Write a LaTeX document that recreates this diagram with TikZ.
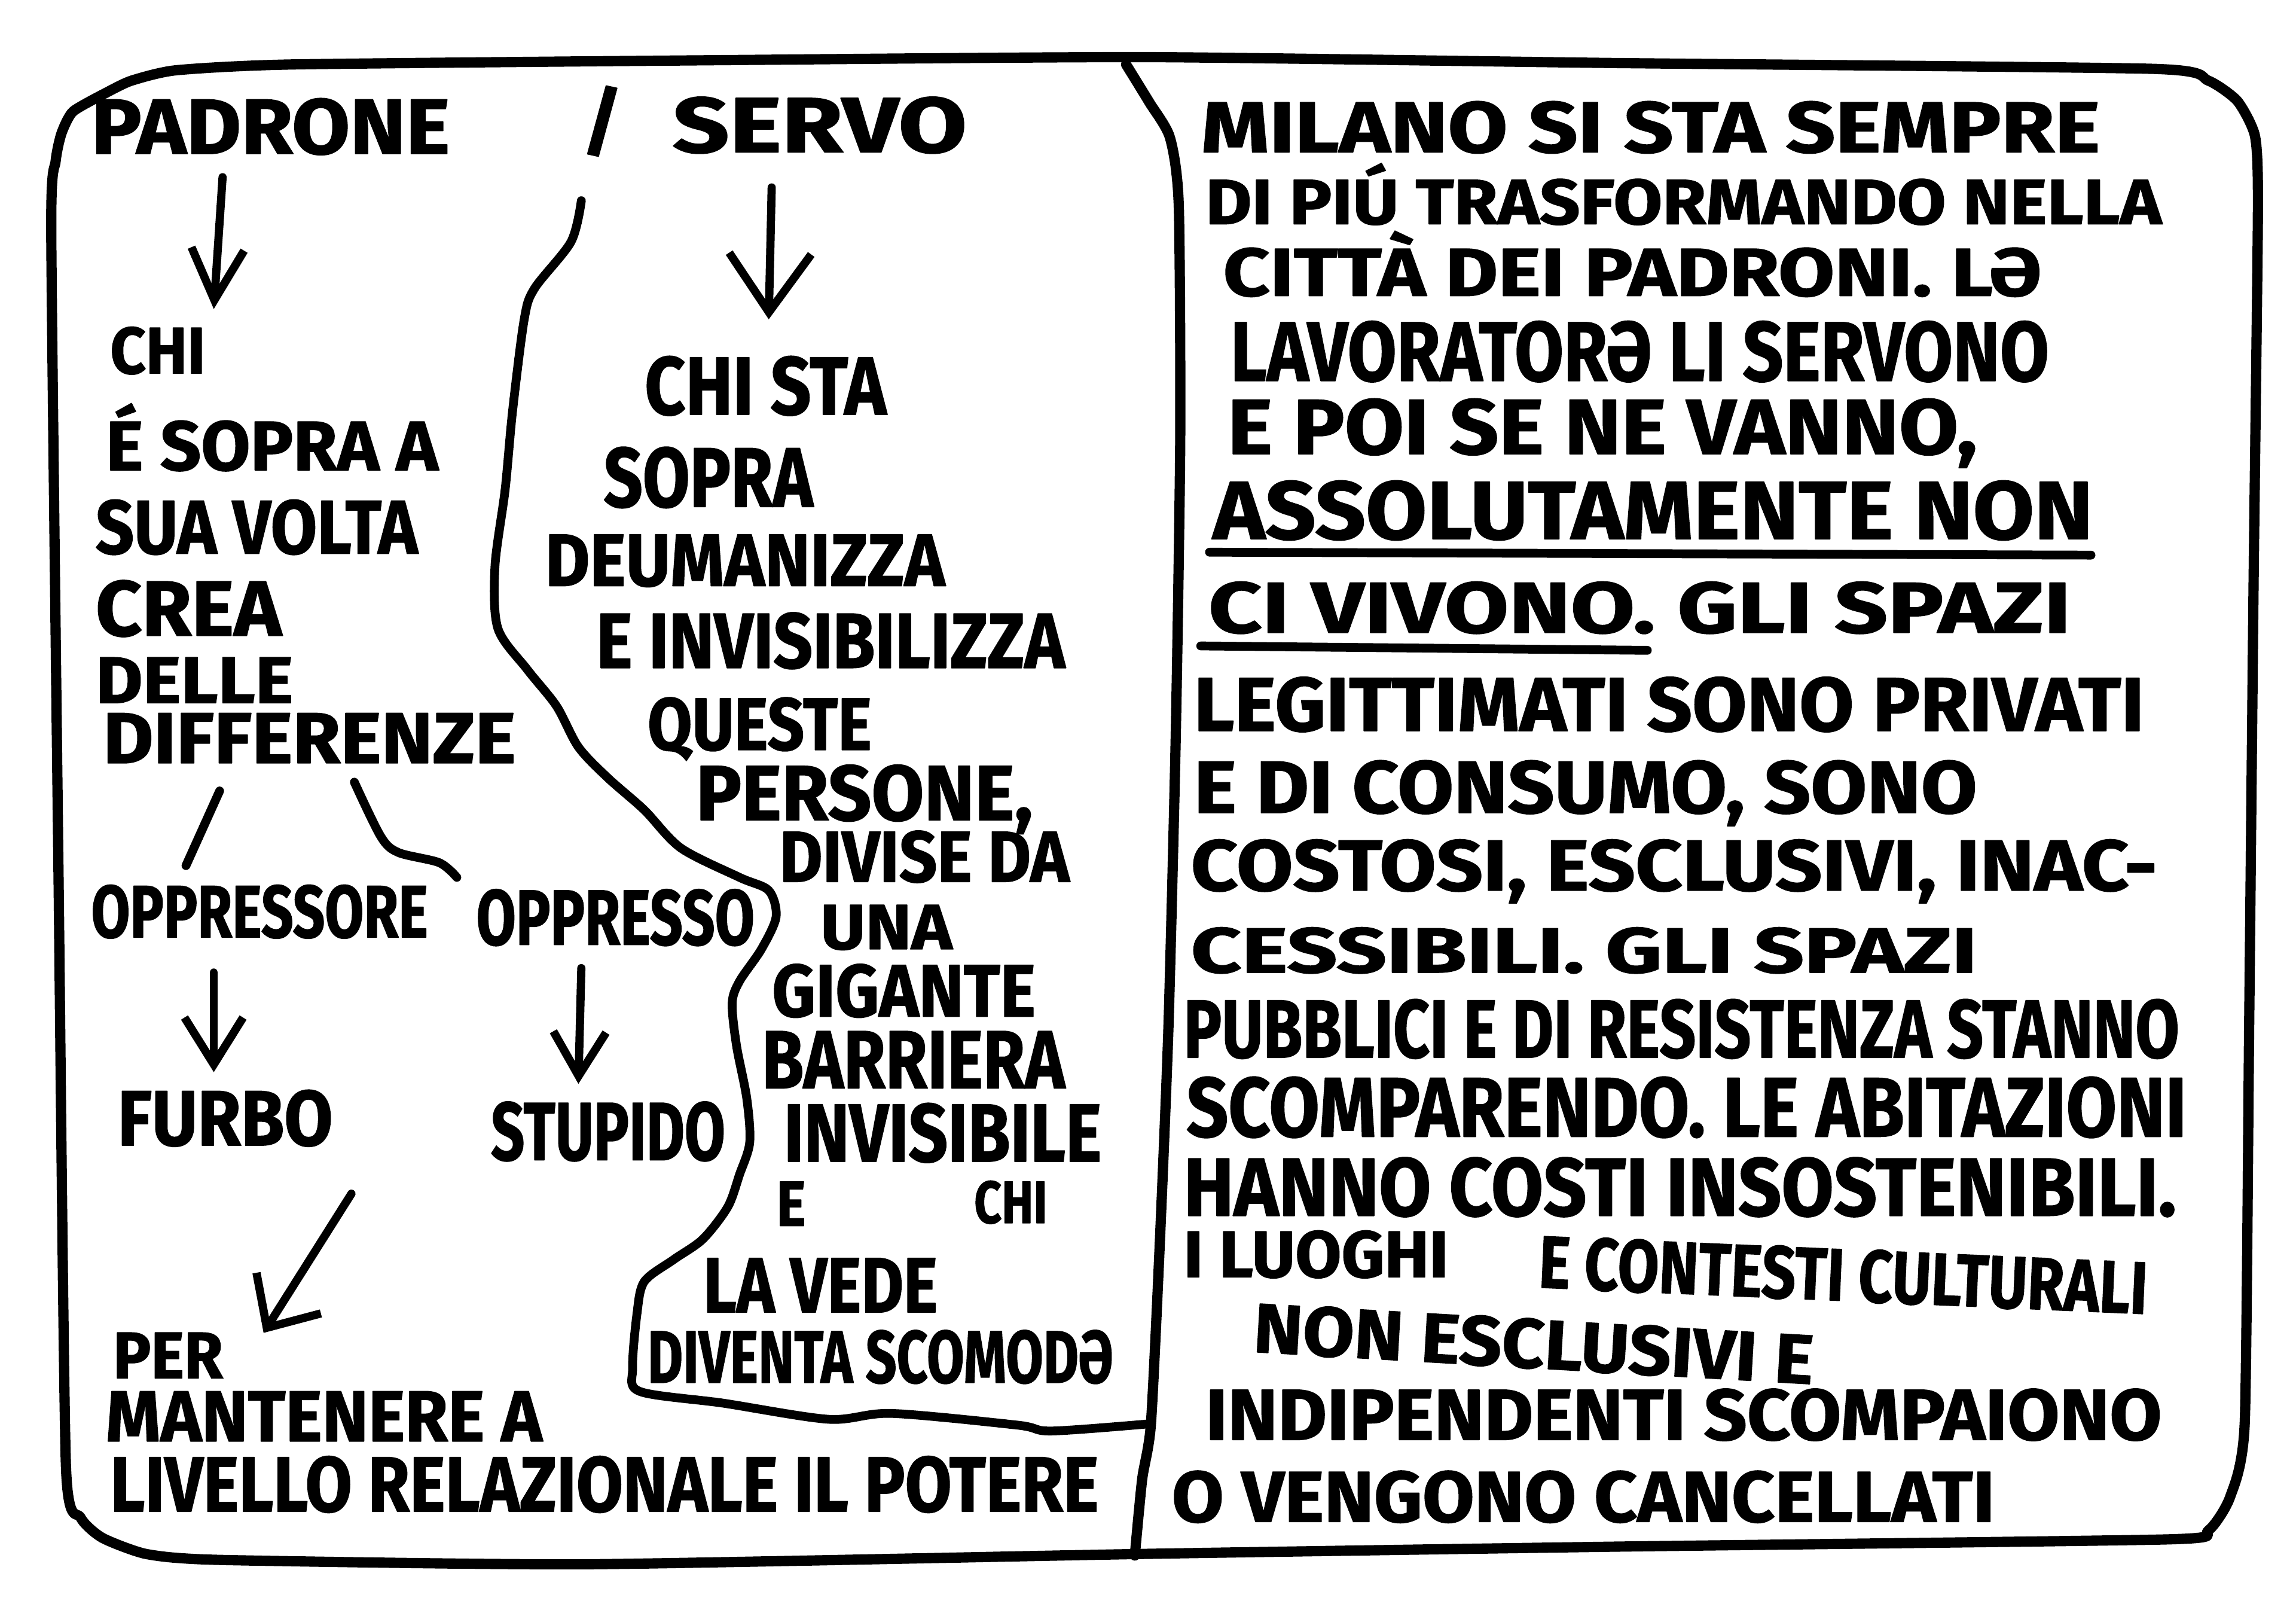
\documentclass[tikz,border=0pt]{standalone}
\usepackage{fontspec}
\setmainfont{Fira Sans}[BoldFeatures={FakeBold=1.2}]
\usetikzlibrary{arrows.meta}
\newdimen\uu \uu=0.025cm
% \tl[opts]{name}{x}{baseline y}{width}{font size}{text}
\newcommand\tl[7][]{\node[txt,#1] (#2) at (#3,#4) {\fontsize{#6}{#6}\selectfont\resizebox{#5\uu}{\height}{#7}};}
\begin{document}
\begin{tikzpicture}[x=0.025cm,y=-0.025cm,line cap=round,line join=round,
  txt/.style={inner sep=0pt,anchor=base west,font=\bfseries},
  frame/.style={line width=0.175cm},
  ln/.style={line width=0.15cm},
  arr/.style={line width=0.14cm}]
\useasboundingbox[fill=white] (0,0) rectangle (1568,1105);

% ---------- frame ----------
\draw[frame] plot[smooth cycle,tension=0.35] coordinates {
 (200,44) (500,41) (784,39) (1100,43) (1470,47) (1508,55) (1528,69) (1540,93) (1542,142)
 (1539,400) (1536,700) (1533,971) (1523,1022) (1508,1045) (1480,1051) (1100,1056) (776,1061)
 (400,1068) (150,1065) (100,1061) (70,1050) (55,1036) (45,1000) (40,600) (35,158)
 (38,110) (42,91) (50,76) (75,62) (90,55) (120,48)};
% divider
\draw[frame] plot[smooth,tension=0.4] coordinates {
 (769,44) (785,70) (799,94) (805,140) (806,300) (803,500) (798,700) (792,850) (786,972) (780,1010) (775,1062)};
% barrier
\draw[ln] plot[smooth,tension=0.5] coordinates {
 (397,137) (390,165) (365,197) (358,218) (350,281) (345,334) (338,387) (340,429) (360,457)
 (380,482) (395,510) (415,531) (440,553) (465,579) (505,599) (525,608) (530,626) (520,648)
 (505,670) (500,685) (503,714) (510,750) (512,780) (505,802) (497,824) (480,846) (460,860)
 (440,875) (435,897) (432,934) (437,950) (494,958) (566,969) (609,965) (695,973) (718,977) (786,972)};

% ---------- left panel ----------
\tl{padrone}{62}{105}{245}{38}{PADRONE}
\tl{slash}{397}{101}{28}{37}{/}
\tl{servo}{459}{104}{201}{38}{SERVO}
\tl{chi1}{75}{255}{65}{32}{CHI}
\tl{esopra}{72}{321}{227}{34}{É SOPRA A}
\tl{sua}{65}{378}{220}{37}{SUA VOLTA}
\tl{crea}{65}{434}{127}{38}{CREA}
\tl{delle}{65}{480}{135}{32}{DELLE}
\tl{diff}{70}{521}{282}{35}{DIFFERENZE}
\tl{oppressore}{62}{640}{230}{36}{OPPRESSORE}
\tl{oppresso}{325}{645}{190}{38}{OPPRESSO}
\tl{furbo}{80}{782}{147}{38}{FURBO}
\tl{stupido}{335}{792}{160}{40}{STUPIDO}
\tl{per}{77}{941}{75}{32}{PER}
\tl{mantenere}{72}{984}{298}{35}{MANTENERE A}
\tl{livello}{75}{1032}{675}{38}{LIVELLO RELAZIONALE IL POTERE}

% ---------- middle (beyond the barrier) ----------
\tl{chista}{440}{283}{165}{40}{CHI STA}
\tl{sopra}{412}{346}{143}{41}{SOPRA}
\tl{deum}{372}{400}{273}{36}{DEUMANIZZA}
\tl{einvis}{407}{456}{320}{38}{E INVISIBILIZZA}
\tl{queste}{442}{512}{153}{36}{QUESTE}
\tl{persone}{475}{560}{230}{38}{PERSONE,}
\tl{divise}{532}{602}{198}{35}{DIVISE DA}
\tl{una}{560}{648}{90}{31}{UNA}
\tl{gigante}{527}{694}{180}{36}{GIGANTE}
\tl{barriera}{520}{743}{207}{40}{BARRIERA}
\tl{invisibile}{535}{793}{217}{40}{INVISIBILE}
\tl{etwo}{530}{837}{20}{31}{E}
\tl{chitwo}{665}{835}{50}{29}{CHI}
\tl{lavede}{480}{896}{160}{38}{LA VEDE}
\tl{diventa}{442}{944}{318}{36}{DIVENTA SCOMODƏ}

% ---------- right panel ----------
\tl{rA}{820}{104}{614}{35}{MILANO SI STA SEMPRE}
\tl{rB}{823}{153}{653}{31}{DI PIÚ TRASFORMANDO NELLA}
\tl{rC}{835}{202}{559}{33}{CITTÀ DEI PADRONI. LƏ}
\tl{rD}{840}{260}{559}{41}{LAVORATORƏ LI SERVONO}
\tl{rE}{838}{310}{512}{38}{E POI SE NE VANNO,}
\tl{rF}{828}{368}{601}{40}{ASSOLUTAMENTE NON}
\tl{rG}{825}{432}{589}{35}{CI VIVONO. GLI SPAZI}
\tl{rH}{815}{499}{649}{37}{LEGITTIMATI SONO PRIVATI}
\tl{rI}{815}{555}{535}{36}{E DI CONSUMO, SONO}
\tl{rJ}{813}{608}{660}{35}{COSTOSI, ESCLUSIVI, INAC-}
\tl{rK}{813}{664}{537}{31}{CESSIBILI. GLI SPAZI}
\tl{rL}{808}{722}{680}{40}{PUBBLICI E DI RESISTENZA STANNO}
\tl{rM}{810}{776}{683}{41}{SCOMPARENDO. LE ABITAZIONI}
\tl{rN}{808}{830}{678}{40}{HANNO COSTI INSOSTENIBILI.}
\tl{rOa}{808}{872}{181}{32}{I LUOGHI}
\tl[rotate=-2.5]{rOb}{1050}{879}{416}{36}{E CONTESTI CULTURALI}
\tl[rotate=-3.3]{rP}{855}{923}{383}{34}{NON ESCLUSIVI E}
\tl{rQ}{823}{983}{653}{35}{INDIPENDENTI SCOMPAIONO}
\tl{rR}{800}{1039}{562}{35}{O VENGONO CANCELLATI}

% underlines
\coordinate (uAs) at (826,377); \coordinate (uAe) at (1428,379);
\coordinate (uBs) at (820,441); \coordinate (uBe) at (1125,444);
\draw[ln] (uAs) -- (uAe);
\draw[ln] (uBs) -- (uBe);

% ---------- connectors ----------
\coordinate (a1s) at (152,121); \coordinate (a1e) at (146,211);
\coordinate (a2s) at (527,128); \coordinate (a2e) at (525,218);
\coordinate (a3s) at (146,664); \coordinate (a3e) at (146,732);
\coordinate (a4s) at (397,661); \coordinate (a4e) at (395,740);
\coordinate (a5s) at (240,815); \coordinate (a5e) at (180,910);
\draw[arr,-{Straight Barb[length=0.875cm,width=0.9cm]}] (a1s) -- (a1e);
\draw[arr,-{Straight Barb[length=1.0cm,width=1.4cm]}] (a2s) -- (a2e);
\draw[arr,-{Straight Barb[length=0.8cm,width=1.0cm]}] (a3s) -- (a3e);
\draw[arr,-{Straight Barb[length=0.75cm,width=0.9cm]}] (a4s) -- (a4e);
\draw[arr,-{Straight Barb[length=0.7cm,width=1.3cm]}] (a5s) -- (a5e);

% branches from DIFFERENZE
\coordinate (b1s) at (150,540); \coordinate (b1e) at (127,591);
\coordinate (b2s) at (242,534); \coordinate (b2e) at (312,599);
\draw[ln] (b1s) -- (b1e);
\draw[ln] plot[smooth,tension=0.5] coordinates {(b2s) (260,571) (272,582) (300,589) (b2e)};
\end{tikzpicture}
\end{document}
